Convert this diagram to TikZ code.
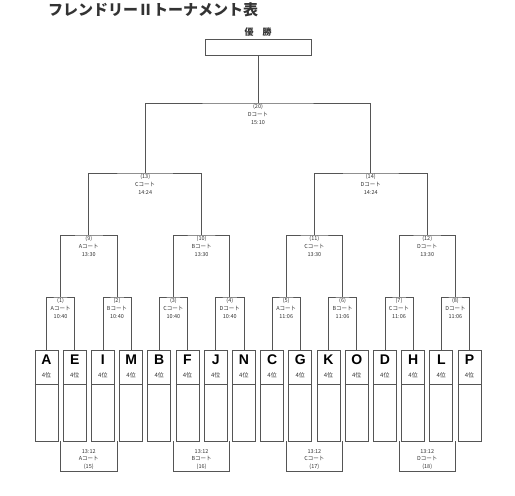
\documentclass[tikz,border=0pt]{standalone}
\usepackage{fontspec}
\newfontfamily\jp{Noto Sans CJK JP}
\newfontfamily\lat{Liberation Sans}
\definecolor{lc}{HTML}{555555}
\definecolor{tc}{HTML}{333333}
\begin{document}
\begin{tikzpicture}[x=1pt,y=-1pt,
  ln/.style={draw=lc,line width=0.7pt},
  lab/.style={font=\jp\fontsize{5.5}{7.8}\selectfont,align=center,inner sep=0.5pt,anchor=north,text=tc},
  team/.style={draw=lc,line width=0.7pt,minimum width=23pt,minimum height=91pt,inner sep=0pt},
  letter/.style={font=\lat\bfseries\fontsize{14}{14}\selectfont,inner sep=0pt,text=black},
  rank/.style={font=\jp\fontsize{6}{6}\selectfont,inner sep=0pt,text=tc}]
\useasboundingbox (0,0) rectangle (515,496);
% title
\node[font=\jp\bfseries\fontsize{15}{15}\selectfont,anchor=west,inner sep=0pt,text=tc] (title) at (48,10) {フレンドリーⅡトーナメント表};
\node[font=\jp\bfseries\fontsize{9}{9}\selectfont,inner sep=0pt,text=tc] (yusho) at (258,32) {優\hspace{1em}勝};
\node[draw=lc,line width=0.7pt,minimum width=106pt,minimum height=16pt,inner sep=0pt] (champ) at (258,47) {};
% teams
\foreach \L [count=\i from 0] in {A,E,I,M,B,F,J,N,C,G,K,O,D,H,L,P} {
  \pgfmathsetmacro\xx{46.5+28.2*\i}
  \node[team] (T\i) at (\xx,395.5) {};
  \node[letter] (L\i) at (\xx,360) {\L};
  \node[rank] (K\i) at (\xx,375) {4位};
  \draw[ln] ([yshift=11.5pt]T\i.west) -- ([yshift=11.5pt]T\i.east);
}
% round 1
\foreach \k/\n/\c/\t in {0/1/A/10:40,1/2/B/10:40,2/3/C/10:40,3/4/D/10:40,4/5/A/11:06,5/6/B/11:06,6/7/C/11:06,7/8/D/11:06} {
  \pgfmathtruncatemacro\a{2*\k}
  \pgfmathtruncatemacro\b{2*\k+1}
  \pgfmathsetmacro\xx{60.6+56.4*\k}
  \coordinate (r\k) at (\xx,297);
  \draw[ln] (T\a.north) |- (r\k) -| (T\b.north);
  \node[lab] (lr\k) at ([yshift=-0.5pt]r\k) {(\n)\\\c コート\\\t};
}
% quarter
\foreach \k/\n/\c in {0/9/A,1/10/B,2/11/C,3/12/D} {
  \pgfmathtruncatemacro\a{2*\k}
  \pgfmathtruncatemacro\b{2*\k+1}
  \pgfmathsetmacro\xx{88.8+112.8*\k}
  \coordinate (q\k) at (\xx,235);
  \draw[ln] (r\a) |- (q\k) -| (r\b);
  \node[lab] (lq\k) at ([yshift=-0.5pt]q\k) {(\n)\\\c コート\\13:30};
}
% semi
\foreach \k/\n/\c in {0/13/C,1/14/D} {
  \pgfmathtruncatemacro\a{2*\k}
  \pgfmathtruncatemacro\b{2*\k+1}
  \pgfmathsetmacro\xx{145.2+225.6*\k}
  \coordinate (s\k) at (\xx,173);
  \draw[ln] (q\a) |- (s\k) -| (q\b);
  \node[lab] (ls\k) at ([yshift=-0.5pt]s\k) {(\n)\\\c コート\\14:24};
}
% final
\coordinate (f) at (258,103);
\draw[ln] (s0) |- (f) -| (s1);
\draw[ln] (f) -- (champ.south);
\node[lab] (lf) at ([yshift=-0.5pt]f) {(20)\\Dコート\\15:10};
% bottom matches
\foreach \k/\n/\c in {0/15/A,1/16/B,2/17/C,3/18/D} {
  \pgfmathtruncatemacro\a{2*\k}
  \pgfmathtruncatemacro\b{2*\k+1}
  \draw[ln] (T0.south -| r\a) -- ++(0,30) -| (T0.south -| r\b);
  \path (q\k |- T0.south) ++(0,7) node[lab] (lb\k) {13:12\\\c コート\\(\n)};
}
\end{tikzpicture}
\end{document}
